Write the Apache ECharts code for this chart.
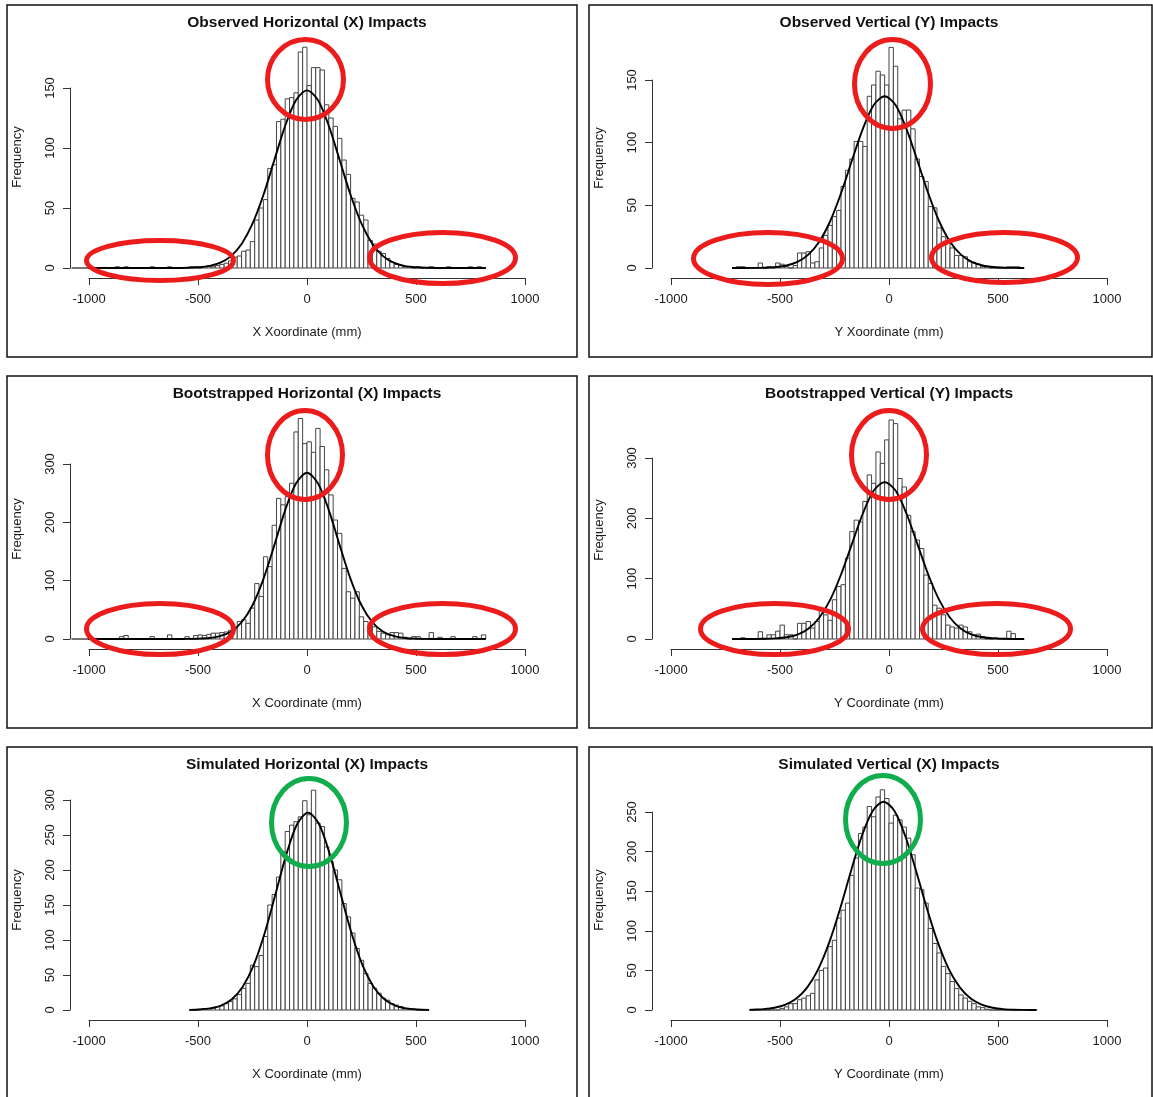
<!DOCTYPE html>
<html>
<head>
<meta charset="utf-8">
<title>Impacts histograms</title>
<script src="https://cdn.jsdelivr.net/npm/echarts@6/dist/echarts.min.js"></script>
<style>
  html, body { margin: 0; padding: 0; background: #fff; }
  #chart { width: 1153px; height: 1097px; }
</style>
</head>
<body>
<div id="chart"></div>
<script>
// bin width of every histogram (mm)
const binWidth = 20;

// ---- observed X ----
const obsXStart = -1080;
const obsXCounts = [
  0, 0, 0, 0, 0, 0, 0, 0, 0, 0,
  1, 0, 1, 0, 0, 0, 0, 0, 1, 0,
  0, 0, 1, 0, 0, 0, 0, 1, 1, 0,
  1, 2, 1, 2, 3, 4, 6, 9, 10, 14,
  15, 22, 40, 50, 57, 83, 86, 122, 124, 141,
  142, 146, 180, 184, 152, 167, 167, 165, 136, 125,
  118, 108, 90, 78, 58, 55, 44, 40, 23, 20,
  14, 12, 8, 5, 3, 2, 1, 1, 0, 1,
  0, 0, 1, 0, 0, 0, 1, 0, 0, 0,
  0, 1, 0, 1, 0
];
const obsXCurveX = [-1080, -600, -550, -500, -450, -400, -350, -300, -250, -200, -150, -100, -50, 0, 50, 100, 150, 200, 250, 300, 350, 400, 450, 500, 550, 600, 820];
const obsXCurveY = [0, 0.05, 0.2, 0.6, 1.6, 4.2, 9.7, 20, 36.9, 60.8, 89.8, 118.5, 140, 148, 140, 118.5, 89.8, 60.8, 36.9, 20, 9.7, 4.2, 1.6, 0.6, 0.2, 0.05, 0];

// ---- observed Y ----
const obsYStart = -720;
const obsYCounts = [
  0, 1, 1, 0, 0, 0, 4, 0, 1, 0,
  4, 3, 1, 0, 2, 12, 12, 13, 4, 5,
  16, 26, 34, 41, 46, 65, 78, 87, 101, 101,
  97, 137, 146, 157, 154, 146, 176, 161, 119, 126,
  126, 111, 87, 73, 69, 49, 48, 32, 25, 20,
  16, 10, 10, 9, 5, 4, 3, 1, 1, 0,
  0, 0, 0, 1, 1, 1, 0
];
const obsYCurveX = [-720, -620, -570, -520, -470, -420, -370, -320, -270, -220, -170, -120, -70, -20, 30, 80, 130, 180, 230, 280, 330, 380, 430, 480, 530, 580, 620];
const obsYCurveY = [0.01, 0.08, 0.25, 0.75, 2.0, 4.9, 10.7, 21, 37.3, 59.6, 85.8, 111, 130, 137, 130, 111, 85.8, 59.6, 37.3, 21, 10.7, 4.9, 2.0, 0.75, 0.25, 0.08, 0.03];

// ---- bootstrapped X ----
const bootXStart = -1080;
const bootXCounts = [
  0, 0, 0, 0, 0, 0, 0, 0, 0, 0,
  0, 4, 6, 0, 0, 0, 0, 0, 4, 0,
  0, 0, 7, 0, 0, 0, 4, 0, 6, 7,
  6, 8, 10, 10, 11, 12, 15, 17, 30, 33,
  27, 53, 95, 73, 141, 124, 195, 241, 230, 244,
  267, 355, 378, 335, 338, 320, 361, 330, 290, 247,
  204, 181, 121, 81, 70, 81, 38, 30, 24, 21,
  13, 10, 7, 11, 11, 10, 3, 0, 4, 4,
  0, 0, 11, 0, 3, 0, 0, 4, 0, 0,
  0, 0, 4, 0, 7
];
const bootXCurveX = [-1080, -600, -550, -500, -450, -400, -350, -300, -250, -200, -150, -100, -50, 0, 50, 100, 150, 200, 250, 300, 350, 400, 450, 500, 550, 600, 820];
const bootXCurveY = [0, 0.03, 0.13, 0.5, 1.6, 4.8, 12.5, 28.7, 57.8, 102.7, 160.5, 221, 267, 285, 267, 221, 160.5, 102.7, 57.8, 28.7, 12.5, 4.8, 1.6, 0.5, 0.13, 0.03, 0];

// ---- bootstrapped Y ----
const bootYStart = -720;
const bootYCounts = [
  0, 0, 2, 0, 0, 0, 12, 0, 7, 7,
  13, 23, 7, 7, 0, 26, 26, 29, 18, 29,
  48, 40, 31, 65, 87, 90, 134, 178, 197, 194,
  228, 272, 258, 310, 291, 330, 363, 357, 266, 252,
  205, 178, 164, 150, 106, 92, 56, 51, 40, 23,
  20, 18, 23, 20, 12, 7, 8, 4, 0, 0,
  2, 0, 0, 13, 9, 0, 0
];
const bootYCurveX = [-720, -670, -620, -570, -520, -470, -420, -370, -320, -270, -220, -170, -120, -70, -20, 30, 80, 130, 180, 230, 280, 330, 380, 430, 480, 530, 580, 620];
const bootYCurveY = [0.01, 0.02, 0.09, 0.3, 1.0, 2.9, 7.4, 17.1, 35.2, 64.8, 106.9, 157.7, 208, 246, 260, 246, 208, 157.7, 106.9, 64.8, 35.2, 17.1, 7.4, 2.9, 1.0, 0.3, 0.09, 0.05];

// ---- simulated X ----
const simXStart = -540;
const simXCounts = [
  0, 0, 1, 2, 2, 3, 5, 6, 9, 12,
  16, 22, 31, 38, 64, 62, 78, 105, 150, 165,
  190, 226, 255, 264, 269, 276, 299, 279, 314, 267,
  262, 233, 212, 200, 186, 152, 133, 110, 88, 71,
  52, 38, 31, 24, 17, 14, 9, 7, 5, 2,
  1, 1, 0, 0, 0
];
const simXCurveX = [-540, -495, -445, -395, -345, -295, -245, -195, -145, -95, -45, 5, 55, 105, 155, 205, 255, 305, 355, 405, 455, 505, 560];
const simXCurveY = [0.2, 0.7, 2.3, 6.3, 15.3, 33.2, 63.8, 109, 165, 222, 265.7, 282, 265.7, 222, 165, 109, 63.8, 33.2, 15.3, 6.3, 2.3, 0.7, 0.2];

// ---- simulated Y ----
const simYStart = -640;
const simYCounts = [
  0, 0, 0, 0, 0, 0, 0, 2, 4, 8,
  8, 13, 15, 18, 21, 38, 50, 53, 80, 88,
  116, 126, 135, 170, 192, 223, 231, 257, 244, 269,
  278, 267, 236, 246, 240, 231, 217, 196, 154, 152,
  135, 103, 84, 72, 55, 46, 36, 27, 19, 15,
  11, 8, 4, 3, 1, 0, 0, 0, 0, 0,
  0, 0, 0, 0, 0, 0
];
const simYCurveX = [-640, -625, -575, -525, -475, -425, -375, -325, -275, -225, -175, -125, -75, -25, 25, 75, 125, 175, 225, 275, 325, 375, 425, 475, 525, 575, 625, 675];
const simYCurveY = [0.2, 0.4, 1.1, 2.8, 6.7, 14.4, 28.5, 51.3, 84.7, 127.3, 174.9, 219.4, 251.4, 263, 251.4, 219.4, 174.9, 127.3, 84.7, 51.3, 28.5, 14.4, 6.7, 2.8, 1.1, 0.4, 0.12, 0.04];

const xTicks = [-1000, -500, 0, 500, 1000];

const FONT = '"Liberation Sans", Arial, Helvetica, sans-serif';
const RED = '#ec1c1c';
const GREEN = '#10ad4c';

// layout of the six panels (pixels)
const panels = [
  { title: 'Observed Horizontal (X) Impacts', xName: 'X Xoordinate (mm)',
    start: obsXStart, counts: obsXCounts, cx: obsXCurveX, cy: obsXCurveY,
    yMax: 150, yStep: 50, box: [7, 5, 570, 352], grid: [89, 88, 180], freqY: 157,
    rings: [[305.5, 79.5, 38, 40, RED], [160, 260.5, 73.5, 20, RED], [442.5, 258, 73, 25.5, RED]] },
  { title: 'Observed Vertical (Y) Impacts', xName: 'Y Xoordinate (mm)',
    start: obsYStart, counts: obsYCounts, cx: obsYCurveX, cy: obsYCurveY,
    yMax: 150, yStep: 50, box: [589, 5, 563, 352], grid: [671, 80, 188], freqY: 158,
    rings: [[892.5, 84, 38, 44.5, RED], [768, 258.5, 74.5, 26, RED], [1004.5, 257.5, 73, 25, RED]] },
  { title: 'Bootstrapped Horizontal (X) Impacts', xName: 'X Coordinate (mm)',
    start: bootXStart, counts: bootXCounts, cx: bootXCurveX, cy: bootXCurveY,
    yMax: 300, yStep: 100, box: [7, 376, 570, 352], grid: [89, 464, 175], freqY: 529,
    rings: [[305, 455, 37.5, 44.5, RED], [160, 629, 73.5, 25.5, RED], [442.5, 629, 73, 25.5, RED]] },
  { title: 'Bootstrapped Vertical (Y) Impacts', xName: 'Y Coordinate (mm)',
    start: bootYStart, counts: bootYCounts, cx: bootYCurveX, cy: bootYCurveY,
    yMax: 300, yStep: 100, box: [589, 376, 563, 352], grid: [671, 458, 181], freqY: 530,
    rings: [[889, 455, 37.5, 44.5, RED], [774.5, 629, 74, 25.5, RED], [996.5, 629, 74, 25.5, RED]] },
  { title: 'Simulated Horizontal (X) Impacts', xName: 'X Coordinate (mm)',
    start: simXStart, counts: simXCounts, cx: simXCurveX, cy: simXCurveY,
    yMax: 300, yStep: 50, box: [7, 747, 570, 352], grid: [89, 800, 210], freqY: 900,
    rings: [[309, 822.5, 37.5, 44, GREEN]] },
  { title: 'Simulated Vertical (X) Impacts', xName: 'Y Coordinate (mm)',
    start: simYStart, counts: simYCounts, cx: simYCurveX, cy: simYCurveY,
    yMax: 250, yStep: 50, box: [589, 747, 563, 352], grid: [671, 812, 198], freqY: 900,
    rings: [[883, 819.5, 37.5, 44, GREEN]] }
];

const chart = echarts.init(document.getElementById('chart'), null, { renderer: 'canvas' });

const grids = [], xAxes = [], yAxes = [], series = [], graphics = [];

panels.forEach((p, i) => {
  grids.push({
    left: p.grid[0], top: p.grid[1], width: 436, height: p.grid[2],
    containLabel: false, outerBoundsMode: 'none'
  });
  xAxes.push({
    gridIndex: i, type: 'value', min: xTicks[0], max: xTicks[xTicks.length - 1], interval: 500,
    offset: 10,
    axisLine: { show: true, onZero: false, lineStyle: { color: '#333', width: 1 } },
    axisTick: { show: true, length: 7, lineStyle: { color: '#333' } },
    axisLabel: { show: true, margin: 15, fontSize: 13, fontFamily: FONT, color: '#1a1a1a',
                 formatter: v => String(v),
                 showMinLabel: true, showMaxLabel: true, hideOverlap: false },
    splitLine: { show: false },
    name: p.xName, nameLocation: 'middle', nameGap: 48,
    nameTextStyle: { fontSize: 13, fontFamily: FONT, color: '#1a1a1a' }
  });
  yAxes.push({
    gridIndex: i, type: 'value', min: 0, max: p.yMax, interval: p.yStep,
    offset: 19,
    axisLine: { show: true, onZero: false, lineStyle: { color: '#333', width: 1 } },
    axisTick: { show: true, length: 7, lineStyle: { color: '#333' } },
    axisLabel: { show: true, rotate: 90, margin: 13, fontSize: 13, fontFamily: FONT, color: '#1a1a1a',
                 formatter: v => String(v),
                 showMinLabel: true, showMaxLabel: true, hideOverlap: false },
    splitLine: { show: false }
  });

  // histogram bins -> [left edge, right edge, count]
  const bins = p.counts.map((c, k) => [p.start + k * binWidth, p.start + (k + 1) * binWidth, c]);
  series.push({
    type: 'custom', xAxisIndex: i, yAxisIndex: i, clip: false, silent: true,
    encode: { x: [0, 1], y: 2 },
    data: bins,
    renderItem: (params, api) => {
      const a = api.coord([api.value(0), 0]);
      const b = api.coord([api.value(1), api.value(2)]);
      return {
        type: 'rect',
        shape: { x: a[0], y: b[1], width: b[0] - a[0], height: a[1] - b[1] },
        style: { fill: '#ffffff', stroke: '#444', lineWidth: 1 }
      };
    },
    z: 2
  });
  series.push({
    type: 'line', xAxisIndex: i, yAxisIndex: i, clip: false, silent: true,
    data: p.cx.map((x, k) => [x, p.cy[k]]),
    symbol: 'none', showSymbol: false, smooth: 0.3,
    lineStyle: { color: '#000', width: 1.9 },
    z: 3
  });

  graphics.push({
    type: 'rect', silent: true, z: 50,
    shape: { x: p.box[0], y: p.box[1], width: p.box[2], height: p.box[3] },
    style: { fill: null, stroke: '#111', lineWidth: 1.5 }
  });
  graphics.push({
    type: 'text', silent: true, z: 50,
    x: p.grid[0] + 218, y: p.box[1] + 18,
    style: { text: p.title, font: 'bold 15.5px ' + FONT, fill: '#111',
             textAlign: 'center', textVerticalAlign: 'middle' }
  });
  graphics.push({
    type: 'text', silent: true, z: 50,
    x: p.box[0] + 10, y: p.freqY, rotation: Math.PI / 2,
    style: { text: 'Frequency', font: '13px ' + FONT, fill: '#1a1a1a',
             textAlign: 'center', textVerticalAlign: 'middle' }
  });
  p.rings.forEach(r => {
    graphics.push({
      type: 'ellipse', silent: true, z: 100,
      shape: { cx: r[0], cy: r[1], rx: r[2], ry: r[3] },
      style: { fill: null, stroke: r[4], lineWidth: 5 }
    });
  });
});

chart.setOption({
  animation: false,
  backgroundColor: '#ffffff',
  grid: grids,
  xAxis: xAxes,
  yAxis: yAxes,
  series: series,
  graphic: { elements: graphics }
});
</script>
</body>
</html>
